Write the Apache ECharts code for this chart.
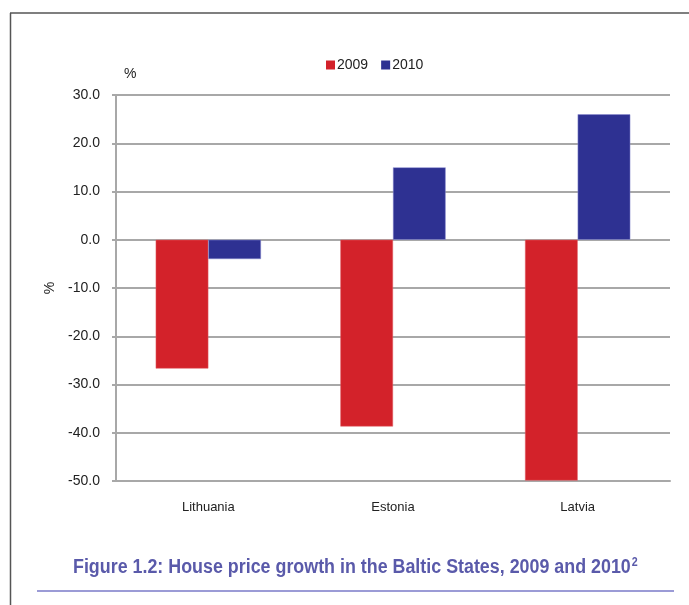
<!DOCTYPE html>
<html>
<head>
<meta charset="utf-8">
<script src="https://cdn.jsdelivr.net/npm/echarts@6/dist/echarts.min.js"></script>
<style>html,body{margin:0;padding:0;background:#fff}#c{width:689px;height:605px}</style>
</head>
<body>
<div id="c"></div>
<script>
var categories = ['Lithuania', 'Estonia', 'Latvia'];
var seriesNames = ['2009', '2010'];
var values2009 = [-26.7, -38.7, -49.9];
var values2010 = [-4.0, 15.0, 26.0];
var yTicks = { min: -50, max: 30, interval: 10 };
var captionText = 'Figure 1.2: House price growth in the Baltic States, 2009 and 2010';

var FONT = '"Liberation Sans", Arial, sans-serif';
var chart = echarts.init(document.getElementById('c'), null, { renderer: 'canvas' });
chart.setOption({
  animation: false,
  backgroundColor: '#fff',
  textStyle: { fontFamily: FONT },
  title: [
    { text: '%', left: 119, top: 62, textStyle: { fontFamily: FONT, fontSize: 14, fontWeight: 'normal', color: '#222' } }
  ],
  legend: {
    data: seriesNames,
    top: 53, left: 321,
    itemWidth: 9, itemHeight: 9, itemGap: 13, icon: 'rect',
    itemStyle: { borderWidth: 0 },
    textStyle: { fontFamily: FONT, fontSize: 14, color: '#222', padding: [0, 0, 0, -3] }
  },
  grid: { left: 116, right: 19, top: 95, bottom: 124, containLabel: false },
  xAxis: {
    type: 'category', data: categories,
    axisLine: { onZero: false, lineStyle: { color: '#a8a8a8', width: 2 } },
    axisTick: { show: false },
    axisLabel: { fontFamily: FONT, fontSize: 13, color: '#222', margin: 20 }
  },
  yAxis: {
    type: 'value', min: yTicks.min, max: yTicks.max, interval: yTicks.interval,
    name: '%', nameLocation: 'middle', nameGap: 58,
    nameTextStyle: { fontFamily: FONT, fontSize: 14, color: '#222' },
    axisLine: { show: true, lineStyle: { color: '#a8a8a8', width: 2 } },
    axisTick: { show: true, length: 4, lineStyle: { color: '#a8a8a8', width: 2 } },
    axisLabel: { fontFamily: FONT, fontSize: 14, color: '#222', margin: 16, formatter: function (v) { return v.toFixed(1); } },
    splitLine: { lineStyle: { color: '#a8a8a8', width: 2 } }
  },
  series: [
    { name: seriesNames[0], type: 'bar', data: values2009, barWidth: '28.5%', barGap: '0%',
      itemStyle: { color: '#D3222A', borderColor: '#E06066', borderWidth: 0.5 } },
    { name: seriesNames[1], type: 'bar', data: values2010, barWidth: '28.5%', barGap: '0%',
      itemStyle: { color: '#2E3192', borderColor: '#8A8CD0', borderWidth: 0.5 } }
  ],
  graphic: [
    { type: 'line', shape: { x1: 10, y1: 13, x2: 689, y2: 13 }, style: { stroke: '#555', lineWidth: 1.5 }, silent: true },
    { type: 'line', shape: { x1: 10.5, y1: 13, x2: 10.5, y2: 605 }, style: { stroke: '#555', lineWidth: 1.5 }, silent: true },
    { type: 'line', shape: { x1: 37, y1: 591, x2: 674, y2: 591 }, style: { stroke: '#9B9BD6', lineWidth: 2 }, silent: true },
    { type: 'text', x: 73, y: 557, scaleX: 0.893, silent: true,
      style: {
        text: '{m|' + captionText + '}{s|2}',
        rich: {
          m: { fontFamily: FONT, fontSize: 20, fontWeight: 'bold', fill: '#5A5AAA' },
          s: { fontFamily: FONT, fontSize: 12, fontWeight: 'bold', fill: '#5A5AAA', verticalAlign: 'top', padding: [0, 0, 8, 1] }
        }
      }
    }
  ]
});
</script>
</body>
</html>
